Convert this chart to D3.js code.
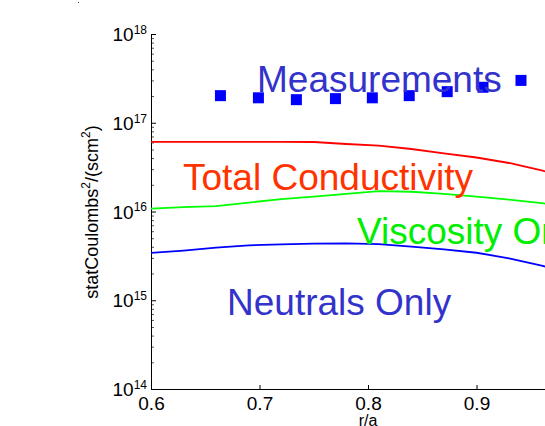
<!DOCTYPE html>
<html>
<head>
<meta charset="utf-8">
<script src="https://cdn.jsdelivr.net/npm/d3@7"></script>
<style>
  body { margin: 0; background: #fff; }
  svg { display: block; }
  text { font-family: "Liberation Sans", Arial, sans-serif; }
</style>
</head>
<body>
<script>
// chart size
var w = 545;
var h = 426;

// model curves, r/a vs value
var rGrid = [0.60, 0.63, 0.66, 0.69, 0.72, 0.75, 0.78, 0.81, 0.84, 0.87, 0.90, 0.93, 0.96, 0.99];
var totalCond = [6.1e16, 6.1e16, 6.1e16, 6.1e16, 6.1e16, 6.07e16, 5.76e16, 5.51e16, 5.06e16, 4.53e16, 4.06e16, 3.52e16, 2.90e16, 2.32e16];
var viscOnly = [1.08e16, 1.12e16, 1.15e16, 1.26e16, 1.38e16, 1.47e16, 1.58e16, 1.70e16, 1.67e16, 1.58e16, 1.47e16, 1.36e16, 1.24e16, 1.12e16];
var neutralsOnly = [3.41e15, 3.62e15, 3.91e15, 4.16e15, 4.27e15, 4.34e15, 4.38e15, 4.30e15, 4.01e15, 3.75e15, 3.43e15, 2.97e15, 2.46e15, 1.93e15];

// measured points
var measR = [0.664, 0.699, 0.734, 0.770, 0.804, 0.838, 0.873, 0.906, 0.941];
var measVal = [2.02e17, 1.91e17, 1.82e17, 1.87e17, 1.91e17, 2.02e17, 2.24e17, 2.51e17, 3.0e17];

// ticks
var xTicks = [0.6, 0.7, 0.8, 0.9];
var yMajor = [1e14, 1e15, 1e16, 1e17, 1e18];
var yMinorMult = [2, 3, 4, 5, 6, 7, 8, 9];

var xScale = d3.scaleLinear().domain([0.6, 1.0]).range([151, 585]);
var yScale = d3.scaleLog().domain([1e14, 1e18]).range([389, 34]);

var svg = d3.select("body").append("svg")
    .attr("width", w)
    .attr("height", h);

// stray dot top-left
svg.append("rect").attr("x", 78).attr("y", 2).attr("width", 1).attr("height", 1).attr("fill", "#444");

// minor y ticks
var yMinor = [];
for (var d = 14; d < 18; d++) {
    yMinorMult.forEach(function(m) { yMinor.push(m * Math.pow(10, d)); });
}
svg.append("g")
    .attr("transform", "translate(151,0)")
    .call(d3.axisLeft(yScale).tickValues(yMinor).tickSizeInner(-3).tickSizeOuter(0).tickFormat(""))
    .call(function(g) { g.select(".domain").remove(); g.selectAll("line").attr("stroke", "#555"); });

// y axis major
var yAxis = svg.append("g")
    .attr("transform", "translate(151,0)")
    .call(d3.axisLeft(yScale).tickValues(yMajor).tickSizeInner(-5).tickSizeOuter(0).tickPadding(4).tickFormat(""));
yAxis.selectAll(".tick text").each(function(v) {
    var t = d3.select(this)
        .attr("font-size", 19)
        .attr("font-family", "Liberation Sans, Arial, sans-serif")
        .attr("fill", "#000")
        .attr("dy", "0.35em");
    t.append("tspan").text("10");
    t.append("tspan").attr("font-size", 12).attr("dy", "-0.6em").text(Math.round(Math.log10(v)));
});

// x axis (runs past the right edge)
svg.append("g")
    .attr("transform", "translate(0,389)")
    .call(d3.axisBottom(xScale).tickValues(xTicks).tickSizeInner(-4).tickSizeOuter(0).tickPadding(8)
        .tickFormat(d3.format(".1f")))
    .call(function(g) {
        g.selectAll("text").attr("font-size", 19).attr("font-family", "Liberation Sans, Arial, sans-serif").attr("fill", "#000");
    });

// axis labels
svg.append("text")
    .attr("x", 368).attr("y", 426)
    .attr("text-anchor", "middle")
    .attr("font-size", 16)
    .text("r/a");

var yl = svg.append("text")
    .attr("transform", "translate(98,212) rotate(-90)")
    .attr("text-anchor", "middle")
    .attr("font-size", 18);
yl.append("tspan").text("statCoulombs");
yl.append("tspan").attr("font-size", 12).attr("dy", -8).text("2");
yl.append("tspan").attr("dy", 8).text("/(scm");
yl.append("tspan").attr("font-size", 12).attr("dy", -8).text("2");
yl.append("tspan").attr("dy", 8).text(")");

// curves
var line = d3.line()
    .x(function(d) { return xScale(d[0]); })
    .y(function(d) { return yScale(d[1]); });

var curves = [
    { vals: totalCond, color: "#ff0000" },
    { vals: viscOnly, color: "#00ff00" },
    { vals: neutralsOnly, color: "#0000ff" }
];
curves.forEach(function(c) {
    svg.append("path")
        .datum(d3.zip(rGrid, c.vals))
        .attr("d", line)
        .attr("fill", "none")
        .attr("stroke", c.color)
        .attr("stroke-width", 1.8);
});

// measurements
svg.selectAll("rect.meas")
    .data(d3.zip(measR, measVal))
    .enter()
    .append("rect")
    .attr("class", "meas")
    .attr("x", function(d) { return xScale(d[0]) - 5.5; })
    .attr("y", function(d) { return yScale(d[1]) - 5.5; })
    .attr("width", 11)
    .attr("height", 11)
    .attr("fill", "#0000ff");

// curve labels
var labels = [
    { text: "Measurements", x: 257, y: 91.5, color: "#3333cc" },
    { text: "Total Conductivity", x: 183, y: 190, color: "#ff3300" },
    { text: "Viscosity Only", x: 357, y: 244, color: "#00ee00" },
    { text: "Neutrals Only", x: 227, y: 315, color: "#3333cc" }
];
svg.selectAll("text.lbl")
    .data(labels)
    .enter()
    .append("text")
    .attr("class", "lbl")
    .attr("x", function(d) { return d.x; })
    .attr("y", function(d) { return d.y; })
    .attr("font-size", 37)
    .attr("fill", function(d) { return d.color; })
    .text(function(d) { return d.text; });
</script>
</body>
</html>
